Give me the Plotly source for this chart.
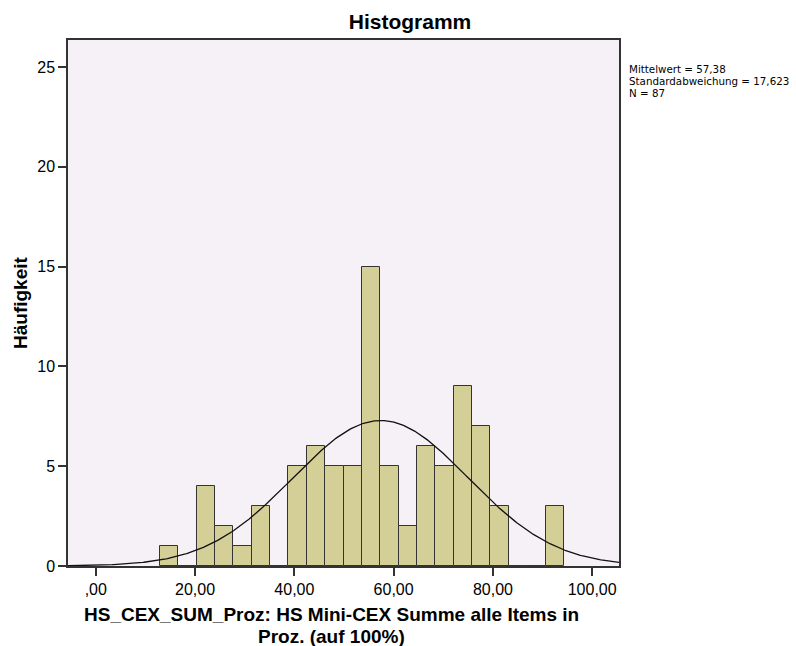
import numpy as np
import plotly.graph_objects as go

# Data
bin_left = [12.9, 16.6, 20.3, 24.0, 27.7, 31.4, 35.1, 38.8, 42.5, 46.2, 49.9,
            53.6, 57.3, 61.0, 64.7, 68.4, 72.1, 75.8, 79.5, 83.2, 86.9, 90.6]
counts = [1, 0, 4, 2, 1, 3, 0, 5, 6, 5, 5, 15, 5, 2, 6, 5, 9, 7, 3, 0, 0, 3]
bin_width = 3.7
mean = 57.38
sd = 17.623
n = 87

x_ticks = [0, 20, 40, 60, 80, 100]
x_tick_text = [",00", "20,00", "40,00", "60,00", "80,00", "100,00"]
y_ticks = [0, 5, 10, 15, 20, 25]
y_tick_text = ["0", "5", "10", "15", "20", "25"]

stats_lines = ["Mittelwert = 57,38", "Standardabweichung = 17,623", f"N = {n}"]
x_title_lines = ["HS_CEX_SUM_Proz: HS Mini-CEX Summe alle Items in", "Proz. (auf 100%)"]

x_range = [-5.6, 105.4]
y_range = [0, 26.35]

centers = [b + bin_width / 2 for b in bin_left]

fig = go.Figure()
fig.add_trace(go.Bar(
    x=centers, y=counts, width=bin_width,
    marker=dict(color="#D4CE97", line=dict(color="#333333", width=1)),
    showlegend=False, hoverinfo="x+y",
))

xs = np.linspace(x_range[0], x_range[1], 400)
ys = n * bin_width / (sd * np.sqrt(2 * np.pi)) * np.exp(-0.5 * ((xs - mean) / sd) ** 2)
fig.add_trace(go.Scatter(x=xs, y=ys, mode="lines",
                         line=dict(color="#111111", width=1.3), showlegend=False))

font_family = "Liberation Sans, Arial, sans-serif"

L, R, T, B = 68, 619, 40, 566
PW, PH = R - L, B - T


def px_x(px):
    return (px - L) / PW


def px_y(py):
    return (B - py) / PH


annotations = []
for line, py in zip(x_title_lines, [614, 636]):
    annotations.append(dict(text=f"<b>{line}</b>", xref="paper", yref="paper",
                            x=px_x(331), y=px_y(py), xanchor="center", yanchor="middle",
                            showarrow=False, font=dict(size=19, family=font_family)))
annotations.append(dict(text="<b>Häufigkeit</b>", xref="paper", yref="paper",
                        x=px_x(20), y=px_y(303), xanchor="center", yanchor="middle",
                        textangle=-90, showarrow=False, font=dict(size=19, family=font_family)))
for line, py in zip(stats_lines, [69, 81, 93]):
    annotations.append(dict(text=line, xref="paper", yref="paper",
                            x=px_x(627), y=px_y(py), xanchor="left", yanchor="middle",
                            showarrow=False, font=dict(size=10.3, family="DejaVu Sans, sans-serif")))

fig.update_layout(
    width=796, height=646,
    margin=dict(l=L, r=796 - R, t=T, b=646 - B),
    paper_bgcolor="white",
    plot_bgcolor="#F6F1F6",
    bargap=0,
    font=dict(family=font_family, color="#000000"),
    title=dict(text="<b>Histogramm</b>", x=410 / 796, xanchor="center",
               y=1 - 22 / 646, yanchor="middle",
               font=dict(size=21, family=font_family)),
    xaxis=dict(
        range=x_range, tickvals=x_ticks, ticktext=x_tick_text,
        ticks="outside", ticklen=8, tickwidth=1.5, tickcolor="#333333",
        showline=True, linecolor="#333333", linewidth=1.5, mirror=True,
        showgrid=False, zeroline=False, automargin=False,
        tickfont=dict(size=16, family=font_family),
    ),
    yaxis=dict(
        range=y_range, tickvals=y_ticks, ticktext=y_tick_text,
        ticks="outside", ticklen=8, tickwidth=1.5, tickcolor="#333333",
        showline=True, linecolor="#333333", linewidth=1.5, mirror=True,
        showgrid=False, zeroline=False, automargin=False,
        tickfont=dict(size=16, family=font_family),
    ),
    annotations=annotations,
)

fig.write_html("out.html", post_script="document.body.style.margin='0';",
               config={"displayModeBar": False})
